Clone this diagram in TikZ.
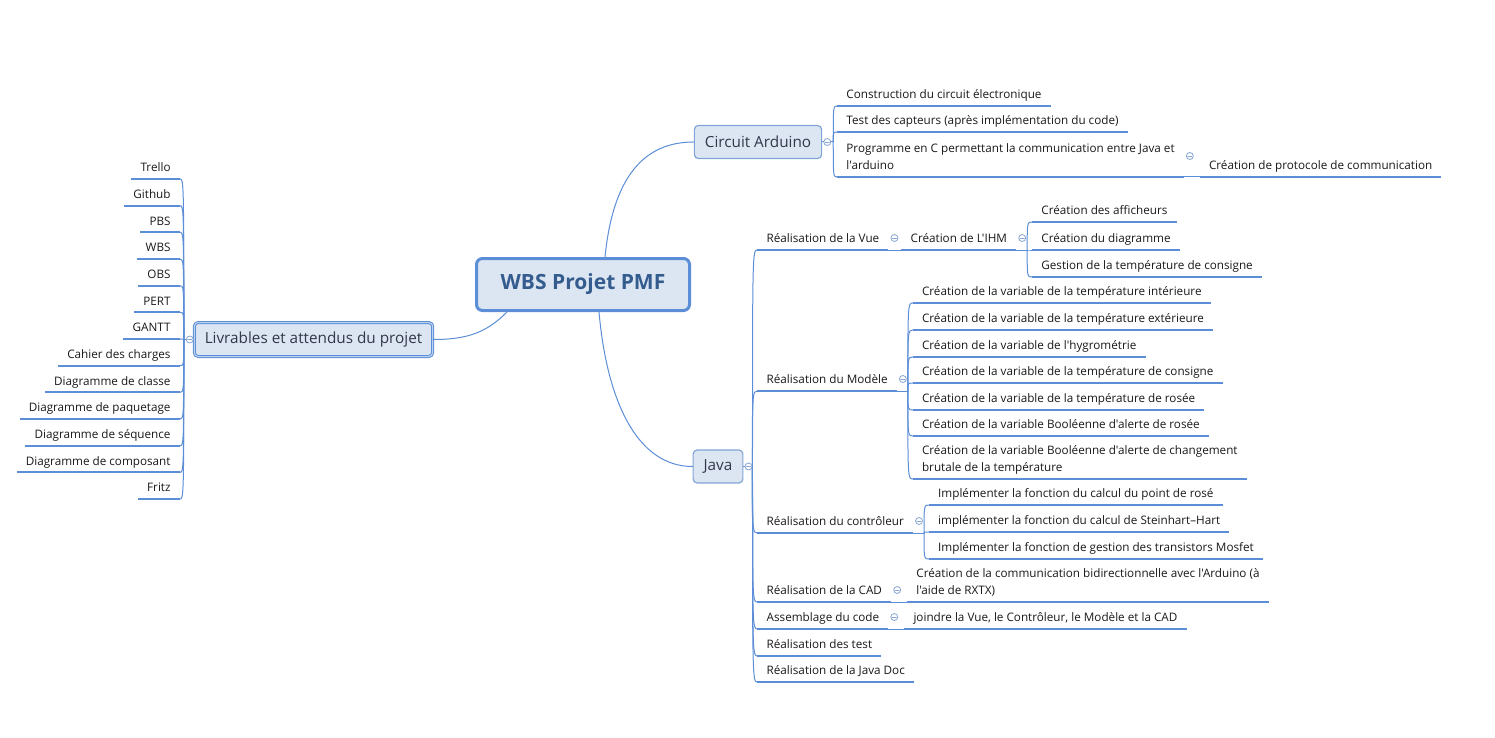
\documentclass[tikz,border=0pt]{standalone}
\usepackage{fontspec}
\setmainfont{Open Sans}[Ligatures=TeXOff]
\definecolor{linec}{RGB}{91,142,214}
\definecolor{boxfill}{RGB}{220,230,242}
\definecolor{boxline}{RGB}{130,165,215}
\definecolor{foldc}{RGB}{135,165,210}
\definecolor{ctrtext}{RGB}{52,92,142}
\definecolor{boxtext}{RGB}{50,55,75}
\definecolor{topictext}{RGB}{25,25,25}
\begin{document}
\begin{tikzpicture}[x=1pt, y=-1pt, line join=round, line cap=round,
    topic/.style={anchor=south west, inner xsep=9pt, inner ysep=4pt, align=left,
      text=topictext, font=\fontsize{11.7}{17}\selectfont,
      execute at end node={\rule[-3pt]{0pt}{3pt}}},
    ltopic/.style={topic, anchor=south east, align=right},
    subbox/.style={rounded corners=4pt, fill=boxfill, draw=boxline, line width=1.2pt,
      inner xsep=10.5pt, minimum height=33pt, text=boxtext, font=\fontsize{15.3}{18}\selectfont},
    mainbox/.style={rounded corners=6pt, fill=boxfill, draw=linec, line width=3pt,
      minimum width=213pt, minimum height=52pt, text=ctrtext, font=\fontsize{21}{25}\selectfont\bfseries},
    uline/.style={draw=linec, line width=2pt, line cap=butt},
    conn/.style={draw=linec, line width=1pt},
    fold/.style={circle, draw=foldc, fill=white, line width=0.8pt, inner sep=0pt, minimum size=7pt,
      path picture={\draw[foldc, line width=0.8pt] ([xshift=-2pt]path picture bounding box.center) -- ([xshift=2pt]path picture bounding box.center);}}]
\useasboundingbox (0,0) rectangle (1495,738);

% centre et branches principales
\node[mainbox] (ctr) at (583,284.5) {WBS Projet PMF};
\node[subbox] (ca) at (758,142) {Circuit Arduino};
\node[subbox] (jv) at (718,466.5) {Java};
\node[subbox, line width=1pt, draw=linec, double=linec!40, double distance=1pt, minimum height=34pt] (liv) at (313.5,339.5) {Livrables et attendus du projet};
\draw[conn] ([xshift=22pt]ctr.north) .. controls +(8,-80) and +(-50,0) .. (ca.west);
\draw[conn] ([xshift=16pt]ctr.south) .. controls +(8,90) and +(-55,0) .. (jv.west);
\draw[conn] ([xshift=-76pt]ctr.south) .. controls +(-20,20) and +(35,0) .. (liv.east);

% Circuit Arduino
\coordinate (cab) at ([xshift=11pt]ca.east);
\coordinate (cax) at ([xshift=4pt]cab);
\node[topic] (ca1) at (cax |- 0,106) {Construction du circuit électronique};
\node[topic] (ca2) at (cax |- 0,132) {Test des capteurs (après implémentation du code)};
\node[topic] (ca3) at (cax |- 0,177) {Programme en C permettant la communication entre Java et\\l'arduino};
\coordinate (ca3b) at ([xshift=11pt]ca3.south east);
\node[topic] (ca31) at ([xshift=5pt]ca3b) {Création de protocole de communication};
\draw[conn] (ca.east) -- (cab);
\foreach \n in {ca1,ca2,ca3}
  \draw[conn] (cab) .. controls (cab |- \n.south west) .. (\n.south west);
\draw[conn] (ca3.south east) -- (ca31.south west);

% Java
\coordinate (jvb) at ([xshift=9pt]jv.east);
\coordinate (jvx) at ([xshift=5pt]jvb);
\node[topic] (vue) at (jvx |- 0,250) {Réalisation de la Vue};
\coordinate (vueb) at ([xshift=9pt]vue.south east);
\node[topic] (ihm) at ([xshift=4pt]vueb) {Création de L'IHM};
\coordinate (ihmb) at ([xshift=11pt]ihm.south east);
\coordinate (ihmx) at ([xshift=5pt]ihmb);
\node[topic] (aff) at (ihmx |- 0,222) {Création des afficheurs};
\node[topic] (dia) at (ihmx |- 0,250) {Création du diagramme};
\node[topic] (ges) at (ihmx |- 0,277) {Gestion de la température de consigne};

\node[topic] (mod) at (jvx |- 0,391) {Réalisation du Modèle};
\coordinate (modb) at ([xshift=11pt]mod.south east);
\coordinate (modx) at ([xshift=5pt]modb);
\foreach \y/\txt [count=\i] in {303/Création de la variable de la température intérieure,
    330/Création de la variable de la température extérieure,
    357/Création de la variable de l'hygrométrie,
    383/Création de la variable de la température de consigne,
    410/Création de la variable de la température de rosée,
    436/Création de la variable Booléenne d'alerte de rosée,
    479/Création de la variable Booléenne d'alerte de changement\\brutale de la température}
  \node[topic] (m\i) at (modx |- 0,\y) {\txt};

\node[topic] (ctl) at (jvx |- 0,533) {Réalisation du contrôleur};
\coordinate (ctlb) at ([xshift=11pt]ctl.south east);
\coordinate (ctlx) at ([xshift=5pt]ctlb);
\node[topic] (c1) at (ctlx |- 0,505) {Implémenter la fonction du calcul du point de rosé};
\node[topic] (c2) at (ctlx |- 0,532) {implémenter la fonction du calcul de Steinhart–Hart};
\node[topic] (c3) at (ctlx |- 0,559) {Implémenter la fonction de gestion des transistors Mosfet};

\node[topic] (cad) at (jvx |- 0,602) {Réalisation de la CAD};
\coordinate (cadb) at ([xshift=11pt]cad.south east);
\node[topic] (cad1) at ([xshift=5pt]cadb) {Création de la communication bidirectionnelle avec l'Arduino (à\\l'aide de RXTX)};
\node[topic] (asm) at (jvx |- 0,629) {Assemblage du code};
\coordinate (asmb) at ([xshift=11pt]asm.south east);
\node[topic] (asm1) at ([xshift=5pt]asmb) {joindre la Vue, le Contrôleur, le Modèle et la CAD};
\node[topic] (tst) at (jvx |- 0,656) {Réalisation des test};
\node[topic] (doc) at (jvx |- 0,682) {Réalisation de la Java Doc};

\draw[conn] (jv.east) -- (jvb);
\foreach \n in {vue,mod,ctl,cad,asm,tst,doc}
  \draw[conn] (jvb) .. controls (jvb |- \n.south west) .. (\n.south west);
\draw[conn] (vue.south east) -- (ihm.south west);
\draw[conn] (ihm.south east) -- (ihmb);
\foreach \n in {aff,dia,ges}
  \draw[conn] (ihmb) .. controls (ihmb |- \n.south west) .. (\n.south west);
\draw[conn] (mod.south east) -- (modb);
\foreach \i in {1,...,7}
  \draw[conn] (modb) .. controls (modb |- m\i.south west) .. (m\i.south west);
\draw[conn] (ctl.south east) -- (ctlb);
\foreach \n in {c1,c2,c3}
  \draw[conn] (ctlb) .. controls (ctlb |- \n.south west) .. (\n.south west);
\draw[conn] (cad.south east) -- (cad1.south west);
\draw[conn] (asm.south east) -- (asm1.south west);

% Livrables
\coordinate (livb) at ([xshift=-10pt]liv.west);
\coordinate (livx) at ([xshift=-4pt]livb);
\foreach \txt [count=\i] in {Trello,Github,PBS,WBS,OBS,PERT,GANTT,Cahier des charges,
    Diagramme de classe,Diagramme de paquetage,Diagramme de séquence,Diagramme de composant,Fritz}
  \node[ltopic] (l\i) at (livx |- 0,{179+(\i-1)*26.667}) {\txt};
\draw[conn] (liv.west) -- (livb);
\foreach \i in {1,...,13}
  \draw[conn] (livb) .. controls (livb |- l\i.south east) .. (l\i.south east);

% soulignements
\foreach \n in {ca1,ca2,ca3,ca31,vue,ihm,aff,dia,ges,mod,ctl,c1,c2,c3,cad,cad1,asm,asm1,tst,doc}
  \draw[uline] (\n.south west) -- (\n.south east);
\foreach \i in {1,...,7}
  \draw[uline] (m\i.south west) -- (m\i.south east);
\foreach \i in {1,...,13}
  \draw[uline] (l\i.south west) -- (l\i.south east);

% boutons de repli
\node[fold] (fca) at ([xshift=5pt]ca.east) {};
\node[fold] (fjv) at ([xshift=5pt]jv.east) {};
\node[fold] (fliv) at ([xshift=-4pt]liv.west) {};
\node[fold] (fca3) at ([xshift=6pt,yshift=21pt]ca3.south east) {};
\foreach \n in {vue,ihm,mod,ctl,cad,asm}
  \node[fold] (f\n) at ([xshift=6pt,yshift=12pt]\n.south east) {};
\end{tikzpicture}
\end{document}
